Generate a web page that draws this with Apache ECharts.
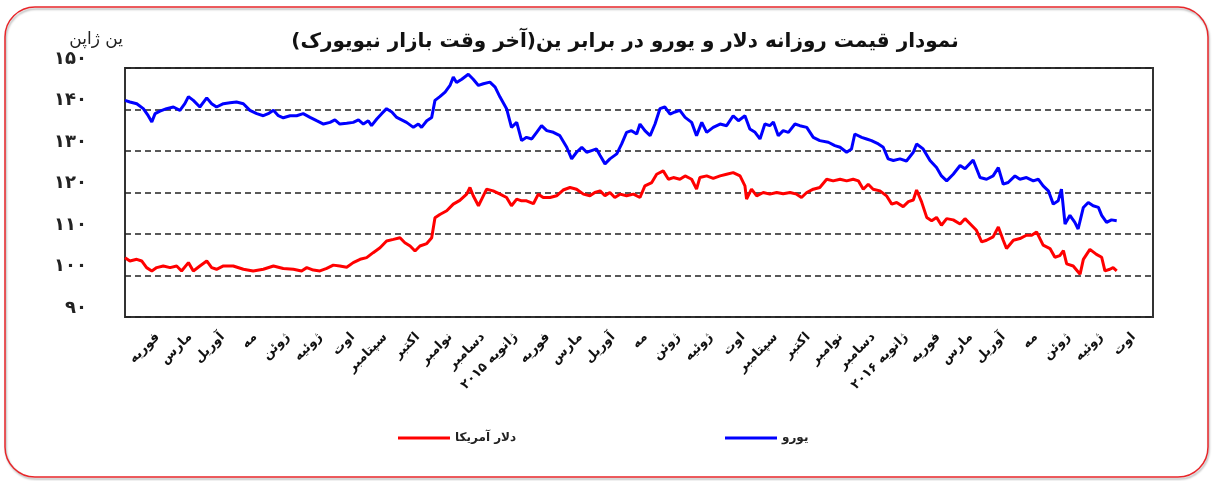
<!DOCTYPE html>
<html>
<head>
<meta charset="utf-8">
<script src="https://cdn.jsdelivr.net/npm/echarts@6/dist/echarts.min.js"></script>
<style>
  html, body { margin: 0; padding: 0; background: #fff; }
  #yen { width: 1214px; height: 481px; }
</style>
</head>
<body>
<div id="yen"></div>
<script>
// month labels (Feb 2014 .. Aug 2016)
const monthLabels = ['فوریه', 'مارس', 'آوریل', 'مه', 'ژوئن', 'ژوئیه', 'اوت', 'سپتامبر', 'اکتبر', 'نوامبر', 'دسامبر', 'ژانویه ۲۰۱۵',
  'فوریه', 'مارس', 'آوریل', 'مه', 'ژوئن', 'ژوئیه', 'اوت', 'سپتامبر', 'اکتبر', 'نوامبر', 'دسامبر', 'ژانویه ۲۰۱۶',
  'فوریه', 'مارس', 'آوریل', 'مه', 'ژوئن', 'ژوئیه', 'اوت'];

const yTicks = [90, 100, 110, 120, 130, 140, 150];

// euro / yen, x = months from start of axis
const eurMonths = [0, 0.15, 0.36, 0.56, 0.71, 0.82, 0.92, 1.07, 1.27, 1.48, 1.68, 1.83, 1.94, 2.09, 2.29, 2.50, 2.65, 2.80, 3.01, 3.21,
  3.41, 3.62, 3.82, 4.03, 4.23, 4.38, 4.54, 4.69, 4.84, 5.05, 5.25, 5.45, 5.66, 5.86, 6.07, 6.27, 6.42, 6.57, 6.78, 6.98,
  7.14, 7.29, 7.44, 7.54, 7.70, 7.85, 8.00, 8.16, 8.31, 8.46, 8.61, 8.82, 8.97, 9.07, 9.23, 9.38, 9.48, 9.63, 9.79, 9.94,
  10.04, 10.14, 10.30, 10.50, 10.65, 10.81, 10.96, 11.16, 11.32, 11.47, 11.67, 11.82, 11.98,
  12.13, 12.28, 12.44, 12.59, 12.74, 12.90, 13.10, 13.30, 13.51, 13.66, 13.81, 13.97, 14.12, 14.27, 14.42, 14.53, 14.68, 14.83, 15.04, 15.19,
  15.34, 15.49, 15.65, 15.75, 15.90, 16.06, 16.21, 16.36, 16.51, 16.67, 16.82, 16.97, 17.13, 17.33, 17.48, 17.64, 17.79, 17.99, 18.20, 18.40,
  18.60, 18.76, 18.96, 19.11, 19.27, 19.42, 19.57, 19.72, 19.83, 19.98, 20.13, 20.29, 20.49, 20.64, 20.85, 21.05, 21.25, 21.51, 21.71, 21.87,
  22.07, 22.22, 22.32, 22.53, 22.68, 22.83, 23.04, 23.19, 23.34, 23.50, 23.70,
  23.90, 24.11, 24.21, 24.41, 24.62, 24.82, 24.97, 25.13, 25.33, 25.54, 25.69, 25.94, 26.15, 26.35, 26.55, 26.71, 26.86, 27.01, 27.22, 27.37,
  27.57, 27.78, 27.93, 28.08, 28.24, 28.39, 28.54, 28.64, 28.75, 28.90, 29.05, 29.15, 29.31, 29.46, 29.61, 29.77, 29.87, 30.02, 30.17, 30.33];
const eurRates = [142.2, 141.8, 141.4, 140.2, 138.5, 137.0, 139.0, 139.6, 140.2, 140.6, 139.8, 141.4, 143.1, 142.2, 140.6, 142.8, 141.4, 140.6, 141.4, 141.6,
  141.8, 141.4, 139.8, 139.0, 138.5, 139.0, 139.8, 138.5, 138.0, 138.5, 138.5, 139.0, 138.1, 137.3, 136.5, 136.9, 137.5, 136.5, 136.7, 136.9,
  137.5, 136.5, 137.3, 136.1, 137.7, 139.0, 140.2, 139.4, 138.1, 137.5, 136.9, 135.7, 136.5, 135.7, 137.3, 138.1, 142.2, 143.1, 144.2, 145.8,
  147.8, 146.5, 147.3, 148.5, 147.3, 145.8, 146.2, 146.6, 145.4, 143.0, 140.2, 135.7, 136.9,
  132.5, 133.3, 132.9, 134.5, 136.1, 134.9, 134.5, 133.7, 130.9, 128.1, 129.7, 130.9, 129.7, 130.1, 130.5, 128.9, 126.9, 128.1, 129.3, 131.7,
  134.5, 134.9, 134.1, 136.5, 134.9, 133.7, 136.5, 140.2, 140.6, 138.9, 139.4, 139.8, 138.1, 136.9, 133.7, 136.9, 134.5, 135.7, 136.5, 136.1,
  138.5, 137.3, 138.5, 135.3, 134.5, 132.9, 136.5, 136.1, 137.0, 133.7, 134.9, 134.5, 136.5, 136.1, 135.7, 133.3, 132.5, 132.1, 131.3, 130.9,
  129.7, 130.5, 134.1, 133.3, 132.9, 132.5, 131.7, 130.9, 128.1, 127.7, 128.1,
  127.6, 129.7, 131.7, 130.5, 127.7, 126.0, 124.0, 122.8, 124.4, 126.5, 125.7, 127.8, 123.6, 123.2, 124.0, 126.0, 122.0, 122.4, 124.0, 123.2,
  123.6, 122.8, 123.2, 121.6, 120.4, 117.2, 118.0, 120.8, 112.4, 114.5, 112.8, 111.2, 116.4, 117.6, 116.8, 116.4, 114.5, 112.8, 113.4, 113.2];

// dollar / yen
const usdMonths = [0, 0.15, 0.36, 0.51, 0.66, 0.82, 0.97, 1.17, 1.38, 1.58, 1.73, 1.94, 2.09, 2.29, 2.50, 2.65, 2.80, 3.01, 3.31, 3.62,
  3.92, 4.23, 4.54, 4.84, 5.15, 5.40, 5.56, 5.76, 5.96, 6.17, 6.37, 6.57, 6.78, 6.98, 7.19, 7.39, 7.59, 7.80, 8.00, 8.21,
  8.41, 8.56, 8.72, 8.87, 9.02, 9.23, 9.38, 9.48, 9.63, 9.84, 10.04, 10.24, 10.45, 10.55, 10.65, 10.81, 10.91, 11.06, 11.26, 11.47,
  11.67, 11.82, 11.98,
  12.13, 12.28, 12.49, 12.64, 12.79, 13.00, 13.20, 13.40, 13.61, 13.81, 14.02, 14.22, 14.37, 14.53, 14.68, 14.83, 14.98, 15.14, 15.34, 15.55,
  15.75, 15.90, 16.11, 16.26, 16.46, 16.62, 16.77, 16.97, 17.13, 17.33, 17.48, 17.58, 17.79, 17.99, 18.20, 18.40, 18.60, 18.81, 18.96, 19.01,
  19.16, 19.32, 19.52, 19.72, 19.93, 20.13, 20.34, 20.54, 20.69, 20.85, 21.05, 21.25, 21.46, 21.66, 21.87, 22.07, 22.27, 22.43, 22.58, 22.73,
  22.88, 23.09, 23.29, 23.45, 23.60,
  23.80, 23.96, 24.11, 24.21, 24.36, 24.52, 24.67, 24.82, 24.97, 25.13, 25.33, 25.54, 25.69, 25.89, 26.04, 26.20, 26.35, 26.55, 26.71, 26.86,
  26.96, 27.17, 27.37, 27.57, 27.73, 27.88, 28.08, 28.29, 28.44, 28.59, 28.70, 28.80, 29.00, 29.21, 29.31, 29.51, 29.71, 29.87, 29.97, 30.12,
  30.22, 30.33];
const usdRates = [104.3, 103.5, 103.9, 103.5, 101.9, 101.1, 101.9, 102.3, 101.9, 102.3, 101.1, 103.1, 101.1, 102.3, 103.5, 101.9, 101.5, 102.3, 102.3, 101.5,
  101.1, 101.5, 102.3, 101.7, 101.5, 101.1, 101.9, 101.3, 101.1, 101.7, 102.5, 102.3, 102.0, 103.1, 103.9, 104.3, 105.5, 106.7, 108.3, 108.7,
  109.1, 107.9, 107.1, 105.9, 107.1, 107.7, 109.1, 113.9, 114.7, 115.6, 117.2, 118.1, 119.6, 121.2, 119.2, 116.8, 118.4, 120.8, 120.4, 119.6,
  118.8, 116.8, 118.4,
  118.0, 118.0, 117.3, 119.6, 118.8, 118.8, 119.2, 120.6, 121.2, 120.8, 119.6, 119.2, 120.0, 120.4, 119.2, 120.0, 118.8, 119.6, 119.2, 119.6,
  118.8, 121.6, 122.4, 124.4, 125.2, 123.2, 123.6, 123.2, 124.0, 123.2, 120.8, 123.6, 124.0, 123.4, 124.0, 124.4, 124.8, 124.0, 121.6, 118.4,
  120.8, 119.2, 120.0, 119.6, 120.0, 119.7, 120.0, 119.6, 118.8, 120.0, 120.8, 121.2, 123.2, 122.8, 123.2, 122.8, 123.2, 122.8, 120.8, 122.0,
  120.8, 120.4, 119.2, 117.2, 117.6,
  116.6, 117.8, 118.2, 120.6, 117.8, 114.0, 113.2, 114.0, 112.1, 113.7, 113.4, 112.4, 113.7, 112.1, 110.9, 108.1, 108.5, 109.3, 111.7, 108.5,
  106.5, 108.5, 108.9, 109.7, 109.7, 110.5, 107.3, 106.5, 104.4, 104.8, 106.0, 102.8, 102.3, 100.3, 103.9, 106.3, 105.1, 104.4, 101.1, 101.5,
  101.9, 101.1];

const faFont = 'DejaVu Sans';
const faDigits = '۰۱۲۳۴۵۶۷۸۹';
const toFa = (n) => String(n).replace(/[0-9]/g, (d) => faDigits[d]);

let myChart = echarts.init(document.getElementById('yen'));

myChart.setOption({
  animation: false,
  backgroundColor: '#fff',
  title: {
    text: 'نمودار قیمت روزانه دلار و یورو در برابر ین(آخر وقت بازار نیویورک)',
    left: 620,
    top: 27,
    textAlign: 'center',
    textStyle: { fontFamily: faFont, fontSize: 20, fontWeight: 'bold', color: '#111' }
  },
  graphic: [{
    type: 'rect',
    shape: { x: 5, y: 7, width: 1203, height: 470, r: 30 },
    style: {
      fill: 'none', stroke: '#e8262a', lineWidth: 1.5,
      shadowColor: 'rgba(0,0,0,0.3)', shadowBlur: 2, shadowOffsetX: 1, shadowOffsetY: 2
    },
    silent: true
  }, {
    // unit of the y axis
    type: 'text',
    x: 123,
    y: 40,
    style: {
      text: 'ین ژاپن',
      fontFamily: faFont,
      fontSize: 17,
      fill: '#222',
      align: 'right',
      verticalAlign: 'middle'
    },
    silent: true
  }],
  legend: [{
    data: ['دلار آمریکا'],
    left: 393,
    top: 427,
    icon: 'rect',
    itemWidth: 52,
    itemHeight: 3,
    textStyle: { fontFamily: faFont, fontSize: 12, fontWeight: 'bold', color: '#222' }
  }, {
    data: ['یورو'],
    left: 720,
    top: 427,
    icon: 'rect',
    itemWidth: 52,
    itemHeight: 3,
    textStyle: { fontFamily: faFont, fontSize: 12, fontWeight: 'bold', color: '#222' }
  }],
  grid: {
    left: 125,
    right: 61,
    top: 68,
    bottom: 164,
    show: true,
    borderColor: '#333',
    borderWidth: 2
  },
  xAxis: [{
    // month labels
    type: 'value',
    min: -1,
    max: 30.6,
    interval: 1,
    axisLine: { show: false },
    axisTick: { show: false },
    splitLine: { show: false },
    axisLabel: {
      rotate: 45,
      margin: 18,
      fontFamily: faFont,
      fontSize: 13,
      fontWeight: 'bold',
      color: '#111',
      formatter: (v) => monthLabels[v] || ''
    }
  }, {
    // data scale
    type: 'value',
    min: 0,
    max: 31.44,
    show: false
  }],
  yAxis: {
    type: 'value',
    min: yTicks[0],
    max: yTicks[yTicks.length - 1],
    interval: 10,
    axisLine: { show: false },
    axisTick: { show: false },
    axisLabel: {
      margin: 38,
      fontFamily: faFont,
      fontSize: 18,
      fontWeight: 'bold',
      color: '#222',
      verticalAlign: 'bottom',
      formatter: (v) => toFa(v)
    },
    splitLine: {
      show: true,
      lineStyle: { color: '#222', width: 1.5, type: [6, 4] }
    }
  },
  series: [{
    name: 'دلار آمریکا',
    type: 'line',
    xAxisIndex: 1,
    symbol: 'none',
    lineStyle: { color: '#ff0000', width: 3 },
    itemStyle: { color: '#ff0000' },
    data: usdMonths.map((m, i) => [m, usdRates[i]])
  }, {
    name: 'یورو',
    type: 'line',
    xAxisIndex: 1,
    symbol: 'none',
    lineStyle: { color: '#0000ff', width: 3 },
    itemStyle: { color: '#0000ff' },
    data: eurMonths.map((m, i) => [m, eurRates[i]])
  }]
});

window.addEventListener('resize', () => {
  myChart.resize();
});
</script>
</body>
</html>
